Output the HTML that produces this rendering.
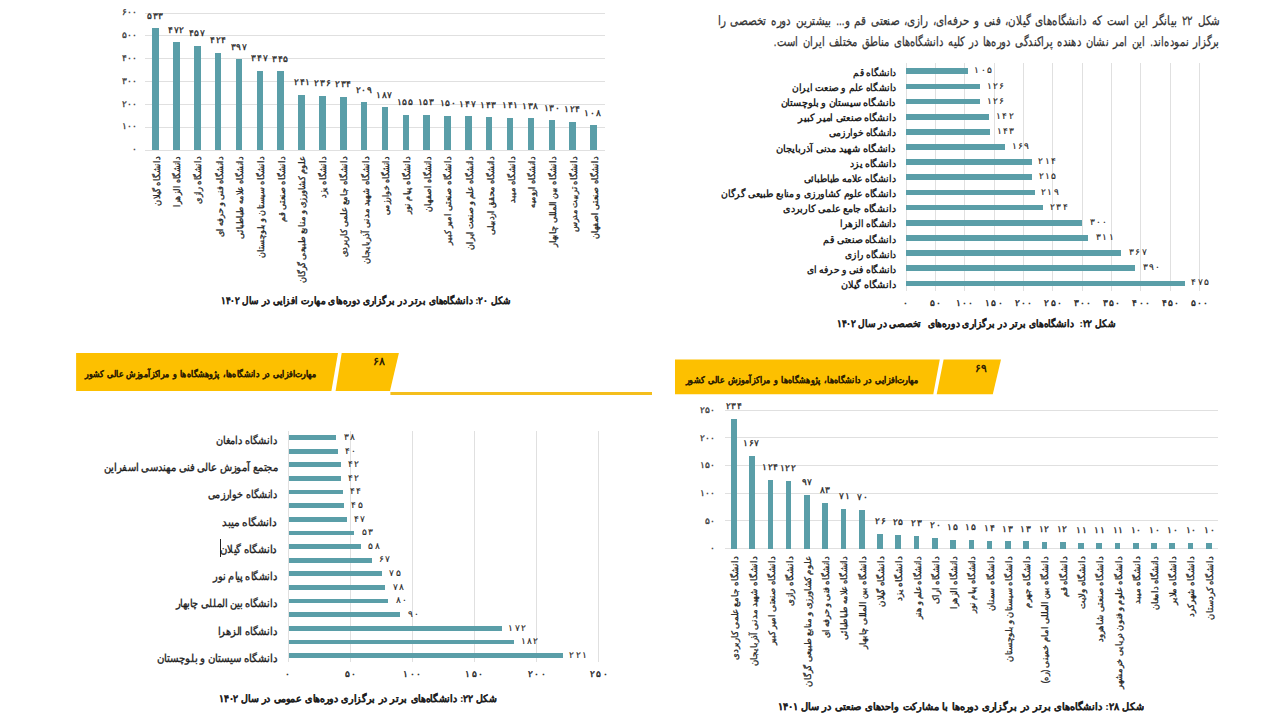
<!DOCTYPE html><html><head><meta charset="utf-8"><style>html,body{margin:0;padding:0;background:#fff}body{width:1280px;height:720px;overflow:hidden;position:relative}.t{position:absolute;white-space:nowrap;font-family:"Liberation Sans",sans-serif;direction:rtl}</style></head><body>
<div style="position:absolute;left:144.50px;top:149.50px;width:460.00px;height:1.00px;background:#e0e0e0"></div>
<div style="position:absolute;left:144.50px;top:126.67px;width:460.00px;height:1.00px;background:#e0e0e0"></div>
<div style="position:absolute;left:144.50px;top:103.83px;width:460.00px;height:1.00px;background:#e0e0e0"></div>
<div style="position:absolute;left:144.50px;top:81.00px;width:460.00px;height:1.00px;background:#e0e0e0"></div>
<div style="position:absolute;left:144.50px;top:58.17px;width:460.00px;height:1.00px;background:#e0e0e0"></div>
<div style="position:absolute;left:144.50px;top:35.33px;width:460.00px;height:1.00px;background:#e0e0e0"></div>
<div style="position:absolute;left:144.50px;top:12.50px;width:460.00px;height:1.00px;background:#e0e0e0"></div>
<div style="position:absolute;left:152.35px;top:28.30px;width:6.50px;height:121.70px;background:#5a9ea8"></div>
<div style="position:absolute;left:173.20px;top:42.23px;width:6.50px;height:107.77px;background:#5a9ea8"></div>
<div style="position:absolute;left:194.05px;top:45.65px;width:6.50px;height:104.35px;background:#5a9ea8"></div>
<div style="position:absolute;left:214.90px;top:53.19px;width:6.50px;height:96.81px;background:#5a9ea8"></div>
<div style="position:absolute;left:235.75px;top:59.35px;width:6.50px;height:90.65px;background:#5a9ea8"></div>
<div style="position:absolute;left:256.60px;top:70.77px;width:6.50px;height:79.23px;background:#5a9ea8"></div>
<div style="position:absolute;left:277.45px;top:71.22px;width:6.50px;height:78.78px;background:#5a9ea8"></div>
<div style="position:absolute;left:298.30px;top:94.97px;width:6.50px;height:55.03px;background:#5a9ea8"></div>
<div style="position:absolute;left:319.15px;top:96.11px;width:6.50px;height:53.89px;background:#5a9ea8"></div>
<div style="position:absolute;left:340.00px;top:96.57px;width:6.50px;height:53.43px;background:#5a9ea8"></div>
<div style="position:absolute;left:360.85px;top:102.28px;width:6.50px;height:47.72px;background:#5a9ea8"></div>
<div style="position:absolute;left:381.70px;top:107.30px;width:6.50px;height:42.70px;background:#5a9ea8"></div>
<div style="position:absolute;left:402.55px;top:114.61px;width:6.50px;height:35.39px;background:#5a9ea8"></div>
<div style="position:absolute;left:423.40px;top:115.06px;width:6.50px;height:34.94px;background:#5a9ea8"></div>
<div style="position:absolute;left:444.25px;top:115.75px;width:6.50px;height:34.25px;background:#5a9ea8"></div>
<div style="position:absolute;left:465.10px;top:116.44px;width:6.50px;height:33.56px;background:#5a9ea8"></div>
<div style="position:absolute;left:485.95px;top:117.35px;width:6.50px;height:32.65px;background:#5a9ea8"></div>
<div style="position:absolute;left:506.80px;top:117.81px;width:6.50px;height:32.19px;background:#5a9ea8"></div>
<div style="position:absolute;left:527.65px;top:118.49px;width:6.50px;height:31.51px;background:#5a9ea8"></div>
<div style="position:absolute;left:548.50px;top:120.32px;width:6.50px;height:29.68px;background:#5a9ea8"></div>
<div style="position:absolute;left:569.35px;top:121.69px;width:6.50px;height:28.31px;background:#5a9ea8"></div>
<div style="position:absolute;left:590.20px;top:125.34px;width:6.50px;height:24.66px;background:#5a9ea8"></div>
<div style="position:absolute;left:905.50px;top:63.00px;width:1.00px;height:228.00px;background:#e0e0e0"></div>
<div style="position:absolute;left:934.84px;top:63.00px;width:1.00px;height:228.00px;background:#e0e0e0"></div>
<div style="position:absolute;left:964.18px;top:63.00px;width:1.00px;height:228.00px;background:#e0e0e0"></div>
<div style="position:absolute;left:993.52px;top:63.00px;width:1.00px;height:228.00px;background:#e0e0e0"></div>
<div style="position:absolute;left:1022.86px;top:63.00px;width:1.00px;height:228.00px;background:#e0e0e0"></div>
<div style="position:absolute;left:1052.20px;top:63.00px;width:1.00px;height:228.00px;background:#e0e0e0"></div>
<div style="position:absolute;left:1081.54px;top:63.00px;width:1.00px;height:228.00px;background:#e0e0e0"></div>
<div style="position:absolute;left:1110.88px;top:63.00px;width:1.00px;height:228.00px;background:#e0e0e0"></div>
<div style="position:absolute;left:1140.22px;top:63.00px;width:1.00px;height:228.00px;background:#e0e0e0"></div>
<div style="position:absolute;left:1169.56px;top:63.00px;width:1.00px;height:228.00px;background:#e0e0e0"></div>
<div style="position:absolute;left:1198.90px;top:63.00px;width:1.00px;height:228.00px;background:#e0e0e0"></div>
<div style="position:absolute;left:906.00px;top:68.40px;width:61.61px;height:5.70px;background:#5a9ea8"></div>
<div style="position:absolute;left:906.00px;top:83.55px;width:73.94px;height:5.70px;background:#5a9ea8"></div>
<div style="position:absolute;left:906.00px;top:98.70px;width:73.94px;height:5.70px;background:#5a9ea8"></div>
<div style="position:absolute;left:906.00px;top:113.85px;width:83.33px;height:5.70px;background:#5a9ea8"></div>
<div style="position:absolute;left:906.00px;top:129.00px;width:83.91px;height:5.70px;background:#5a9ea8"></div>
<div style="position:absolute;left:906.00px;top:144.15px;width:99.17px;height:5.70px;background:#5a9ea8"></div>
<div style="position:absolute;left:906.00px;top:159.30px;width:125.58px;height:5.70px;background:#5a9ea8"></div>
<div style="position:absolute;left:906.00px;top:174.45px;width:126.16px;height:5.70px;background:#5a9ea8"></div>
<div style="position:absolute;left:906.00px;top:189.60px;width:128.51px;height:5.70px;background:#5a9ea8"></div>
<div style="position:absolute;left:906.00px;top:204.75px;width:137.31px;height:5.70px;background:#5a9ea8"></div>
<div style="position:absolute;left:906.00px;top:219.90px;width:176.04px;height:5.70px;background:#5a9ea8"></div>
<div style="position:absolute;left:906.00px;top:235.05px;width:182.49px;height:5.70px;background:#5a9ea8"></div>
<div style="position:absolute;left:906.00px;top:250.20px;width:215.36px;height:5.70px;background:#5a9ea8"></div>
<div style="position:absolute;left:906.00px;top:265.35px;width:228.85px;height:5.70px;background:#5a9ea8"></div>
<div style="position:absolute;left:906.00px;top:280.50px;width:278.73px;height:5.70px;background:#5a9ea8"></div>
<svg style="position:absolute;left:0;top:0" width="1280" height="720"><polygon points="76.1,353 338,353 331.4,391 76.1,391" fill="#fdc000"/><polygon points="341.7,353 398.9,353 390,391 335.6,391" fill="#fdc000"/><rect x="390.4" y="392" width="261.6" height="3" fill="#f4be1c"/><polygon points="675,359.5 939.8,359.5 933.3,394.3 675,394.3" fill="#fdc000"/><polygon points="943.6,359.5 1001,359.5 992.8,394.3 936.7,394.3" fill="#fdc000"/></svg>
<div style="position:absolute;left:288.10px;top:431.25px;width:1.00px;height:230.75px;background:#e0e0e0"></div>
<div style="position:absolute;left:350.10px;top:431.25px;width:1.00px;height:230.75px;background:#e0e0e0"></div>
<div style="position:absolute;left:412.10px;top:431.25px;width:1.00px;height:230.75px;background:#e0e0e0"></div>
<div style="position:absolute;left:474.10px;top:431.25px;width:1.00px;height:230.75px;background:#e0e0e0"></div>
<div style="position:absolute;left:536.10px;top:431.25px;width:1.00px;height:230.75px;background:#e0e0e0"></div>
<div style="position:absolute;left:598.10px;top:431.25px;width:1.00px;height:230.75px;background:#e0e0e0"></div>
<div style="position:absolute;left:288.60px;top:435.20px;width:47.12px;height:4.80px;background:#5a9ea8"></div>
<div style="position:absolute;left:288.60px;top:448.82px;width:49.60px;height:4.80px;background:#5a9ea8"></div>
<div style="position:absolute;left:288.60px;top:462.44px;width:52.08px;height:4.80px;background:#5a9ea8"></div>
<div style="position:absolute;left:288.60px;top:476.06px;width:52.08px;height:4.80px;background:#5a9ea8"></div>
<div style="position:absolute;left:288.60px;top:489.68px;width:54.56px;height:4.80px;background:#5a9ea8"></div>
<div style="position:absolute;left:288.60px;top:503.30px;width:55.80px;height:4.80px;background:#5a9ea8"></div>
<div style="position:absolute;left:288.60px;top:516.92px;width:58.28px;height:4.80px;background:#5a9ea8"></div>
<div style="position:absolute;left:288.60px;top:530.54px;width:65.72px;height:4.80px;background:#5a9ea8"></div>
<div style="position:absolute;left:288.60px;top:544.16px;width:71.92px;height:4.80px;background:#5a9ea8"></div>
<div style="position:absolute;left:288.60px;top:557.78px;width:83.08px;height:4.80px;background:#5a9ea8"></div>
<div style="position:absolute;left:288.60px;top:571.40px;width:93.00px;height:4.80px;background:#5a9ea8"></div>
<div style="position:absolute;left:288.60px;top:585.02px;width:96.72px;height:4.80px;background:#5a9ea8"></div>
<div style="position:absolute;left:288.60px;top:598.64px;width:99.20px;height:4.80px;background:#5a9ea8"></div>
<div style="position:absolute;left:288.60px;top:612.26px;width:111.60px;height:4.80px;background:#5a9ea8"></div>
<div style="position:absolute;left:288.60px;top:625.88px;width:213.28px;height:4.80px;background:#5a9ea8"></div>
<div style="position:absolute;left:288.60px;top:639.50px;width:225.68px;height:4.80px;background:#5a9ea8"></div>
<div style="position:absolute;left:288.60px;top:653.12px;width:274.04px;height:4.80px;background:#5a9ea8"></div>
<div style="position:absolute;left:219.70px;top:539.00px;width:1.30px;height:17.50px;background:#222"></div>
<div style="position:absolute;left:724.50px;top:548.10px;width:493.80px;height:1.00px;background:#e0e0e0"></div>
<div style="position:absolute;left:724.50px;top:520.44px;width:493.80px;height:1.00px;background:#e0e0e0"></div>
<div style="position:absolute;left:724.50px;top:492.78px;width:493.80px;height:1.00px;background:#e0e0e0"></div>
<div style="position:absolute;left:724.50px;top:465.12px;width:493.80px;height:1.00px;background:#e0e0e0"></div>
<div style="position:absolute;left:724.50px;top:437.46px;width:493.80px;height:1.00px;background:#e0e0e0"></div>
<div style="position:absolute;left:724.50px;top:409.80px;width:493.80px;height:1.00px;background:#e0e0e0"></div>
<div style="position:absolute;left:731.00px;top:419.15px;width:5.70px;height:129.45px;background:#5a9ea8"></div>
<div style="position:absolute;left:749.27px;top:456.22px;width:5.70px;height:92.38px;background:#5a9ea8"></div>
<div style="position:absolute;left:767.54px;top:480.00px;width:5.70px;height:68.60px;background:#5a9ea8"></div>
<div style="position:absolute;left:785.81px;top:481.11px;width:5.70px;height:67.49px;background:#5a9ea8"></div>
<div style="position:absolute;left:804.08px;top:494.94px;width:5.70px;height:53.66px;background:#5a9ea8"></div>
<div style="position:absolute;left:822.35px;top:502.68px;width:5.70px;height:45.92px;background:#5a9ea8"></div>
<div style="position:absolute;left:840.62px;top:509.32px;width:5.70px;height:39.28px;background:#5a9ea8"></div>
<div style="position:absolute;left:858.89px;top:509.88px;width:5.70px;height:38.72px;background:#5a9ea8"></div>
<div style="position:absolute;left:877.16px;top:534.22px;width:5.70px;height:14.38px;background:#5a9ea8"></div>
<div style="position:absolute;left:895.43px;top:534.77px;width:5.70px;height:13.83px;background:#5a9ea8"></div>
<div style="position:absolute;left:913.70px;top:535.88px;width:5.70px;height:12.72px;background:#5a9ea8"></div>
<div style="position:absolute;left:931.97px;top:537.54px;width:5.70px;height:11.06px;background:#5a9ea8"></div>
<div style="position:absolute;left:950.24px;top:540.30px;width:5.70px;height:8.30px;background:#5a9ea8"></div>
<div style="position:absolute;left:968.51px;top:540.30px;width:5.70px;height:8.30px;background:#5a9ea8"></div>
<div style="position:absolute;left:986.78px;top:540.86px;width:5.70px;height:7.74px;background:#5a9ea8"></div>
<div style="position:absolute;left:1005.05px;top:541.41px;width:5.70px;height:7.19px;background:#5a9ea8"></div>
<div style="position:absolute;left:1023.32px;top:541.41px;width:5.70px;height:7.19px;background:#5a9ea8"></div>
<div style="position:absolute;left:1041.59px;top:541.96px;width:5.70px;height:6.64px;background:#5a9ea8"></div>
<div style="position:absolute;left:1059.86px;top:541.96px;width:5.70px;height:6.64px;background:#5a9ea8"></div>
<div style="position:absolute;left:1078.13px;top:542.51px;width:5.70px;height:6.09px;background:#5a9ea8"></div>
<div style="position:absolute;left:1096.40px;top:542.51px;width:5.70px;height:6.09px;background:#5a9ea8"></div>
<div style="position:absolute;left:1114.67px;top:542.51px;width:5.70px;height:6.09px;background:#5a9ea8"></div>
<div style="position:absolute;left:1132.94px;top:543.07px;width:5.70px;height:5.53px;background:#5a9ea8"></div>
<div style="position:absolute;left:1151.21px;top:543.07px;width:5.70px;height:5.53px;background:#5a9ea8"></div>
<div style="position:absolute;left:1169.48px;top:543.07px;width:5.70px;height:5.53px;background:#5a9ea8"></div>
<div style="position:absolute;left:1187.75px;top:543.07px;width:5.70px;height:5.53px;background:#5a9ea8"></div>
<div style="position:absolute;left:1206.02px;top:543.07px;width:5.70px;height:5.53px;background:#5a9ea8"></div>
<div class="t" style="font-size:9px;line-height:9px;height:9px;color:#3a3a3a;-webkit-text-stroke:0.3px #3a3a3a;right:1142.90px;top:144.70px;transform-origin:100% 50%;">۰</div>
<div class="t" style="font-size:9px;line-height:9px;height:9px;color:#3a3a3a;-webkit-text-stroke:0.3px #3a3a3a;right:1142.90px;top:122.37px;transform-origin:100% 50%;">۱۰۰</div>
<div class="t" style="font-size:9px;line-height:9px;height:9px;color:#3a3a3a;-webkit-text-stroke:0.3px #3a3a3a;right:1142.90px;top:99.53px;transform-origin:100% 50%;">۲۰۰</div>
<div class="t" style="font-size:9px;line-height:9px;height:9px;color:#3a3a3a;-webkit-text-stroke:0.3px #3a3a3a;right:1142.90px;top:76.70px;transform-origin:100% 50%;">۳۰۰</div>
<div class="t" style="font-size:9px;line-height:9px;height:9px;color:#3a3a3a;-webkit-text-stroke:0.3px #3a3a3a;right:1142.90px;top:53.87px;transform-origin:100% 50%;">۴۰۰</div>
<div class="t" style="font-size:9px;line-height:9px;height:9px;color:#3a3a3a;-webkit-text-stroke:0.3px #3a3a3a;right:1142.90px;top:31.03px;transform-origin:100% 50%;">۵۰۰</div>
<div class="t" style="font-size:9px;line-height:9px;height:9px;color:#3a3a3a;-webkit-text-stroke:0.3px #3a3a3a;right:1142.90px;top:8.20px;transform-origin:100% 50%;">۶۰۰</div>
<div class="t" style="font-size:9px;line-height:9px;height:9px;color:#262626;-webkit-text-stroke:0.3px #262626;left:146.82px;top:11.60px;"><span style="padding:0 0.3px">۵</span><span style="padding:0 0.3px">۳</span><span style="padding:0 0.3px">۳</span></div>
<div class="t" style="font-size:9px;line-height:9px;height:9px;color:#222;-webkit-text-stroke:0.3px #222;right:1122.90px;top:152.30px;transform-origin:100% 50%;transform:rotate(-90deg) scaleX(0.9358);">دانشگاه گیلان</div>
<div class="t" style="font-size:9px;line-height:9px;height:9px;color:#262626;-webkit-text-stroke:0.3px #262626;left:167.67px;top:25.53px;"><span style="padding:0 0.3px">۴</span><span style="padding:0 0.3px">۷</span><span style="padding:0 0.3px">۲</span></div>
<div class="t" style="font-size:9px;line-height:9px;height:9px;color:#222;-webkit-text-stroke:0.3px #222;right:1102.05px;top:152.30px;transform-origin:100% 50%;transform:rotate(-90deg) scaleX(0.8702);">دانشگاه الزهرا</div>
<div class="t" style="font-size:9px;line-height:9px;height:9px;color:#262626;-webkit-text-stroke:0.3px #262626;left:188.52px;top:28.95px;"><span style="padding:0 0.3px">۴</span><span style="padding:0 0.3px">۵</span><span style="padding:0 0.3px">۷</span></div>
<div class="t" style="font-size:9px;line-height:9px;height:9px;color:#222;-webkit-text-stroke:0.3px #222;right:1081.20px;top:152.30px;transform-origin:100% 50%;transform:rotate(-90deg) scaleX(0.9173);">دانشگاه رازی</div>
<div class="t" style="font-size:9px;line-height:9px;height:9px;color:#262626;-webkit-text-stroke:0.3px #262626;left:209.87px;top:36.49px;"><span style="padding:0 0.3px">۴</span><span style="padding:0 0.3px">۲</span><span style="padding:0 0.3px">۴</span></div>
<div class="t" style="font-size:9px;line-height:9px;height:9px;color:#222;-webkit-text-stroke:0.3px #222;right:1060.35px;top:152.30px;transform-origin:100% 50%;transform:rotate(-90deg) scaleX(0.8967);">دانشگاه فنی و حرفه ای</div>
<div class="t" style="font-size:9px;line-height:9px;height:9px;color:#262626;-webkit-text-stroke:0.3px #262626;left:230.22px;top:42.65px;"><span style="padding:0 0.3px">۳</span><span style="padding:0 0.3px">۹</span><span style="padding:0 0.3px">۷</span></div>
<div class="t" style="font-size:9px;line-height:9px;height:9px;color:#222;-webkit-text-stroke:0.3px #222;right:1039.50px;top:152.30px;transform-origin:100% 50%;transform:rotate(-90deg) scaleX(0.8892);">دانشگاه علامه طباطبائی</div>
<div class="t" style="font-size:9px;line-height:9px;height:9px;color:#262626;-webkit-text-stroke:0.3px #262626;left:251.07px;top:54.07px;"><span style="padding:0 0.3px">۳</span><span style="padding:0 0.3px">۴</span><span style="padding:0 0.3px">۷</span></div>
<div class="t" style="font-size:9px;line-height:9px;height:9px;color:#222;-webkit-text-stroke:0.3px #222;right:1018.65px;top:152.30px;transform-origin:100% 50%;transform:rotate(-90deg) scaleX(0.9044);">دانشگاه سیستان و بلوچستان</div>
<div class="t" style="font-size:9px;line-height:9px;height:9px;color:#262626;-webkit-text-stroke:0.3px #262626;left:271.92px;top:54.52px;"><span style="padding:0 0.3px">۳</span><span style="padding:0 0.3px">۴</span><span style="padding:0 0.3px">۵</span></div>
<div class="t" style="font-size:9px;line-height:9px;height:9px;color:#222;-webkit-text-stroke:0.3px #222;right:997.80px;top:152.30px;transform-origin:100% 50%;transform:rotate(-90deg) scaleX(0.9056);">دانشگاه صنعتی قم</div>
<div class="t" style="font-size:9px;line-height:9px;height:9px;color:#262626;-webkit-text-stroke:0.3px #262626;left:293.77px;top:78.27px;"><span style="padding:0 0.3px">۲</span><span style="padding:0 0.3px">۴</span><span style="padding:0 0.3px">۱</span></div>
<div class="t" style="font-size:9px;line-height:9px;height:9px;color:#222;-webkit-text-stroke:0.3px #222;right:977.45px;top:152.30px;transform-origin:100% 50%;transform:rotate(-90deg) scaleX(0.9299);">علوم کشاورزی و منابع طبیعی گرگان</div>
<div class="t" style="font-size:9px;line-height:9px;height:9px;color:#262626;-webkit-text-stroke:0.3px #262626;left:314.12px;top:79.41px;"><span style="padding:0 0.3px">۲</span><span style="padding:0 0.3px">۳</span><span style="padding:0 0.3px">۶</span></div>
<div class="t" style="font-size:9px;line-height:9px;height:9px;color:#222;-webkit-text-stroke:0.3px #222;right:956.10px;top:152.30px;transform-origin:100% 50%;transform:rotate(-90deg) scaleX(0.9087);">دانشگاه یزد</div>
<div class="t" style="font-size:9px;line-height:9px;height:9px;color:#262626;-webkit-text-stroke:0.3px #262626;left:334.97px;top:79.87px;"><span style="padding:0 0.3px">۲</span><span style="padding:0 0.3px">۳</span><span style="padding:0 0.3px">۴</span></div>
<div class="t" style="font-size:9px;line-height:9px;height:9px;color:#222;-webkit-text-stroke:0.3px #222;right:935.75px;top:152.30px;transform-origin:100% 50%;transform:rotate(-90deg) scaleX(0.9284);">دانشگاه جامع علمی کاربردی</div>
<div class="t" style="font-size:9px;line-height:9px;height:9px;color:#262626;-webkit-text-stroke:0.3px #262626;left:355.32px;top:85.58px;"><span style="padding:0 0.3px">۲</span><span style="padding:0 0.3px">۰</span><span style="padding:0 0.3px">۹</span></div>
<div class="t" style="font-size:9px;line-height:9px;height:9px;color:#222;-webkit-text-stroke:0.3px #222;right:913.90px;top:152.30px;transform-origin:100% 50%;transform:rotate(-90deg) scaleX(0.9310);">دانشگاه شهید مدنی آذربایجان</div>
<div class="t" style="font-size:9px;line-height:9px;height:9px;color:#262626;-webkit-text-stroke:0.3px #262626;left:375.67px;top:90.60px;"><span style="padding:0 0.3px">۱</span><span style="padding:0 0.3px">۸</span><span style="padding:0 0.3px">۷</span></div>
<div class="t" style="font-size:9px;line-height:9px;height:9px;color:#222;-webkit-text-stroke:0.3px #222;right:893.55px;top:152.30px;transform-origin:100% 50%;transform:rotate(-90deg) scaleX(0.8594);">دانشگاه خوارزمی</div>
<div class="t" style="font-size:9px;line-height:9px;height:9px;color:#262626;-webkit-text-stroke:0.3px #262626;left:396.52px;top:97.91px;"><span style="padding:0 0.3px">۱</span><span style="padding:0 0.3px">۵</span><span style="padding:0 0.3px">۵</span></div>
<div class="t" style="font-size:9px;line-height:9px;height:9px;color:#222;-webkit-text-stroke:0.3px #222;right:872.70px;top:152.30px;transform-origin:100% 50%;transform:rotate(-90deg) scaleX(0.9111);">دانشگاه پیام نور</div>
<div class="t" style="font-size:9px;line-height:9px;height:9px;color:#262626;-webkit-text-stroke:0.3px #262626;left:417.37px;top:98.36px;"><span style="padding:0 0.3px">۱</span><span style="padding:0 0.3px">۵</span><span style="padding:0 0.3px">۳</span></div>
<div class="t" style="font-size:9px;line-height:9px;height:9px;color:#222;-webkit-text-stroke:0.3px #222;right:851.85px;top:152.30px;transform-origin:100% 50%;transform:rotate(-90deg) scaleX(0.8672);">دانشگاه اصفهان</div>
<div class="t" style="font-size:9px;line-height:9px;height:9px;color:#262626;-webkit-text-stroke:0.3px #262626;left:439.22px;top:99.05px;"><span style="padding:0 0.3px">۱</span><span style="padding:0 0.3px">۵</span><span style="padding:0 0.3px">۰</span></div>
<div class="t" style="font-size:9px;line-height:9px;height:9px;color:#222;-webkit-text-stroke:0.3px #222;right:831.00px;top:152.30px;transform-origin:100% 50%;transform:rotate(-90deg) scaleX(0.9219);">دانشگاه صنعتی امیر کبیر</div>
<div class="t" style="font-size:9px;line-height:9px;height:9px;color:#262626;-webkit-text-stroke:0.3px #262626;left:459.07px;top:99.73px;"><span style="padding:0 0.3px">۱</span><span style="padding:0 0.3px">۴</span><span style="padding:0 0.3px">۷</span></div>
<div class="t" style="font-size:9px;line-height:9px;height:9px;color:#222;-webkit-text-stroke:0.3px #222;right:810.15px;top:152.30px;transform-origin:100% 50%;transform:rotate(-90deg) scaleX(0.8981);">دانشگاه علم و صنعت ایران</div>
<div class="t" style="font-size:9px;line-height:9px;height:9px;color:#262626;-webkit-text-stroke:0.3px #262626;left:479.92px;top:100.65px;"><span style="padding:0 0.3px">۱</span><span style="padding:0 0.3px">۴</span><span style="padding:0 0.3px">۳</span></div>
<div class="t" style="font-size:9px;line-height:9px;height:9px;color:#222;-webkit-text-stroke:0.3px #222;right:789.30px;top:152.30px;transform-origin:100% 50%;transform:rotate(-90deg) scaleX(0.8955);">دانشگاه محقق اردبیلی</div>
<div class="t" style="font-size:9px;line-height:9px;height:9px;color:#262626;-webkit-text-stroke:0.3px #262626;left:501.77px;top:101.11px;"><span style="padding:0 0.3px">۱</span><span style="padding:0 0.3px">۴</span><span style="padding:0 0.3px">۱</span></div>
<div class="t" style="font-size:9px;line-height:9px;height:9px;color:#222;-webkit-text-stroke:0.3px #222;right:767.95px;top:152.30px;transform-origin:100% 50%;transform:rotate(-90deg) scaleX(0.9340);">دانشگاه میبد</div>
<div class="t" style="font-size:9px;line-height:9px;height:9px;color:#262626;-webkit-text-stroke:0.3px #262626;left:521.62px;top:101.79px;"><span style="padding:0 0.3px">۱</span><span style="padding:0 0.3px">۳</span><span style="padding:0 0.3px">۸</span></div>
<div class="t" style="font-size:9px;line-height:9px;height:9px;color:#222;-webkit-text-stroke:0.3px #222;right:747.60px;top:152.30px;transform-origin:100% 50%;transform:rotate(-90deg) scaleX(0.8897);">دانشگاه ارومیه</div>
<div class="t" style="font-size:9px;line-height:9px;height:9px;color:#262626;-webkit-text-stroke:0.3px #262626;left:543.47px;top:103.62px;"><span style="padding:0 0.3px">۱</span><span style="padding:0 0.3px">۳</span><span style="padding:0 0.3px">۰</span></div>
<div class="t" style="font-size:9px;line-height:9px;height:9px;color:#222;-webkit-text-stroke:0.3px #222;right:726.75px;top:152.30px;transform-origin:100% 50%;transform:rotate(-90deg) scaleX(0.9050);">دانشگاه بین المللی چابهار</div>
<div class="t" style="font-size:9px;line-height:9px;height:9px;color:#262626;-webkit-text-stroke:0.3px #262626;left:563.82px;top:104.99px;"><span style="padding:0 0.3px">۱</span><span style="padding:0 0.3px">۲</span><span style="padding:0 0.3px">۴</span></div>
<div class="t" style="font-size:9px;line-height:9px;height:9px;color:#222;-webkit-text-stroke:0.3px #222;right:705.90px;top:152.30px;transform-origin:100% 50%;transform:rotate(-90deg) scaleX(0.9036);">دانشگاه تربیت مدرس</div>
<div class="t" style="font-size:9px;line-height:9px;height:9px;color:#262626;-webkit-text-stroke:0.3px #262626;left:584.17px;top:108.64px;"><span style="padding:0 0.3px">۱</span><span style="padding:0 0.3px">۰</span><span style="padding:0 0.3px">۸</span></div>
<div class="t" style="font-size:9px;line-height:9px;height:9px;color:#222;-webkit-text-stroke:0.3px #222;right:685.05px;top:152.30px;transform-origin:100% 50%;transform:rotate(-90deg) scaleX(0.8989);">دانشگاه صنعتی اصفهان</div>
<div class="t" style="font-size:9.5px;line-height:9.5px;height:9.5px;color:#1e1e1e;font-weight:bold;word-spacing:1px;-webkit-text-stroke:0.2px #1e1e1e;right:769.70px;top:296.10px;transform-origin:100% 50%;transform:scaleX(0.8910);">شکل ۲۰: دانشگاه‌های برتر در برگزاری دوره‌های مهارت افزایی در سال ۱۴۰۲</div>
<div class="t" style="font-size:12.5px;line-height:12.5px;height:12.5px;color:#333;word-spacing:2.5px;-webkit-text-stroke:0.25px #333;right:60.10px;top:14.80px;transform-origin:100% 50%;transform:scaleX(0.7960);">شکل ۲۲ بیانگر این است که دانشگاه‌های گیلان، فنی و حرفه‌ای، رازی، صنعتی قم و... بیشترین دوره تخصصی را</div>
<div class="t" style="font-size:12.5px;line-height:12.5px;height:12.5px;color:#333;word-spacing:2.5px;-webkit-text-stroke:0.25px #333;right:60.13px;top:35.80px;transform-origin:100% 50%;transform:scaleX(0.7677);">برگزار نموده‌اند. این امر نشان دهنده پراکندگی دوره‌ها در کلیه دانشگاه‌های مناطق مختلف ایران است.</div>
<div class="t" style="font-size:9px;line-height:9px;height:9px;color:#262626;-webkit-text-stroke:0.4px #262626;left:902.41px;top:298.60px;"><span style="padding:0 0.6px">۰</span></div>
<div class="t" style="font-size:9px;line-height:9px;height:9px;color:#262626;-webkit-text-stroke:0.4px #262626;left:929.57px;top:299.10px;"><span style="padding:0 0.6px">۵</span><span style="padding:0 0.6px">۰</span></div>
<div class="t" style="font-size:9px;line-height:9px;height:9px;color:#262626;-webkit-text-stroke:0.4px #262626;left:955.22px;top:299.10px;"><span style="padding:0 0.6px">۱</span><span style="padding:0 0.6px">۰</span><span style="padding:0 0.6px">۰</span></div>
<div class="t" style="font-size:9px;line-height:9px;height:9px;color:#262626;-webkit-text-stroke:0.4px #262626;left:984.56px;top:299.10px;"><span style="padding:0 0.6px">۱</span><span style="padding:0 0.6px">۵</span><span style="padding:0 0.6px">۰</span></div>
<div class="t" style="font-size:9px;line-height:9px;height:9px;color:#262626;-webkit-text-stroke:0.4px #262626;left:1014.40px;top:299.10px;"><span style="padding:0 0.6px">۲</span><span style="padding:0 0.6px">۰</span><span style="padding:0 0.6px">۰</span></div>
<div class="t" style="font-size:9px;line-height:9px;height:9px;color:#262626;-webkit-text-stroke:0.4px #262626;left:1043.74px;top:299.10px;"><span style="padding:0 0.6px">۲</span><span style="padding:0 0.6px">۵</span><span style="padding:0 0.6px">۰</span></div>
<div class="t" style="font-size:9px;line-height:9px;height:9px;color:#262626;-webkit-text-stroke:0.4px #262626;left:1073.08px;top:299.10px;"><span style="padding:0 0.6px">۳</span><span style="padding:0 0.6px">۰</span><span style="padding:0 0.6px">۰</span></div>
<div class="t" style="font-size:9px;line-height:9px;height:9px;color:#262626;-webkit-text-stroke:0.4px #262626;left:1102.42px;top:299.10px;"><span style="padding:0 0.6px">۳</span><span style="padding:0 0.6px">۵</span><span style="padding:0 0.6px">۰</span></div>
<div class="t" style="font-size:9px;line-height:9px;height:9px;color:#262626;-webkit-text-stroke:0.4px #262626;left:1131.76px;top:299.10px;"><span style="padding:0 0.6px">۴</span><span style="padding:0 0.6px">۰</span><span style="padding:0 0.6px">۰</span></div>
<div class="t" style="font-size:9px;line-height:9px;height:9px;color:#262626;-webkit-text-stroke:0.4px #262626;left:1161.10px;top:299.10px;"><span style="padding:0 0.6px">۴</span><span style="padding:0 0.6px">۵</span><span style="padding:0 0.6px">۰</span></div>
<div class="t" style="font-size:9px;line-height:9px;height:9px;color:#262626;-webkit-text-stroke:0.4px #262626;left:1190.44px;top:299.10px;"><span style="padding:0 0.6px">۵</span><span style="padding:0 0.6px">۰</span><span style="padding:0 0.6px">۰</span></div>
<div class="t" style="font-size:9px;line-height:9px;height:9px;color:#262626;-webkit-text-stroke:0.15px #262626;left:973.67px;top:66.35px;"><span style="padding:0 0.65px">۱</span><span style="padding:0 0.65px">۰</span><span style="padding:0 0.65px">۵</span></div>
<div class="t" style="font-size:10px;line-height:10px;height:10px;color:#222;font-weight:bold;right:384.20px;top:67.85px;transform-origin:100% 50%;transform:scaleX(0.8875);">دانشگاه قم</div>
<div class="t" style="font-size:9px;line-height:9px;height:9px;color:#262626;-webkit-text-stroke:0.15px #262626;left:985.99px;top:81.50px;"><span style="padding:0 0.65px">۱</span><span style="padding:0 0.65px">۲</span><span style="padding:0 0.65px">۶</span></div>
<div class="t" style="font-size:10px;line-height:10px;height:10px;color:#222;font-weight:bold;right:384.20px;top:83.00px;transform-origin:100% 50%;transform:scaleX(0.9195);">دانشگاه علم و صنعت ایران</div>
<div class="t" style="font-size:9px;line-height:9px;height:9px;color:#262626;-webkit-text-stroke:0.15px #262626;left:985.99px;top:96.65px;"><span style="padding:0 0.65px">۱</span><span style="padding:0 0.65px">۲</span><span style="padding:0 0.65px">۶</span></div>
<div class="t" style="font-size:10px;line-height:10px;height:10px;color:#222;font-weight:bold;right:384.20px;top:98.15px;transform-origin:100% 50%;transform:scaleX(0.9686);">دانشگاه سیستان و بلوچستان</div>
<div class="t" style="font-size:9px;line-height:9px;height:9px;color:#262626;-webkit-text-stroke:0.15px #262626;left:995.38px;top:111.80px;"><span style="padding:0 0.65px">۱</span><span style="padding:0 0.65px">۴</span><span style="padding:0 0.65px">۲</span></div>
<div class="t" style="font-size:10px;line-height:10px;height:10px;color:#222;font-weight:bold;right:384.20px;top:113.30px;transform-origin:100% 50%;transform:scaleX(0.9476);">دانشگاه صنعتی امیر کبیر</div>
<div class="t" style="font-size:9px;line-height:9px;height:9px;color:#262626;-webkit-text-stroke:0.15px #262626;left:995.97px;top:126.95px;"><span style="padding:0 0.65px">۱</span><span style="padding:0 0.65px">۴</span><span style="padding:0 0.65px">۳</span></div>
<div class="t" style="font-size:10px;line-height:10px;height:10px;color:#222;font-weight:bold;right:384.20px;top:128.45px;transform-origin:100% 50%;transform:scaleX(0.9151);">دانشگاه خوارزمی</div>
<div class="t" style="font-size:9px;line-height:9px;height:9px;color:#262626;-webkit-text-stroke:0.15px #262626;left:1011.23px;top:142.10px;"><span style="padding:0 0.65px">۱</span><span style="padding:0 0.65px">۶</span><span style="padding:0 0.65px">۹</span></div>
<div class="t" style="font-size:10px;line-height:10px;height:10px;color:#222;font-weight:bold;right:384.20px;top:143.60px;transform-origin:100% 50%;transform:scaleX(0.9900);">دانشگاه شهید مدنی آذربایجان</div>
<div class="t" style="font-size:9px;line-height:9px;height:9px;color:#262626;-webkit-text-stroke:0.15px #262626;left:1037.63px;top:157.25px;"><span style="padding:0 0.65px">۲</span><span style="padding:0 0.65px">۱</span><span style="padding:0 0.65px">۴</span></div>
<div class="t" style="font-size:10px;line-height:10px;height:10px;color:#222;font-weight:bold;right:384.20px;top:158.75px;transform-origin:100% 50%;transform:scaleX(0.9347);">دانشگاه یزد</div>
<div class="t" style="font-size:9px;line-height:9px;height:9px;color:#262626;-webkit-text-stroke:0.15px #262626;left:1038.22px;top:172.40px;"><span style="padding:0 0.65px">۲</span><span style="padding:0 0.65px">۱</span><span style="padding:0 0.65px">۵</span></div>
<div class="t" style="font-size:10px;line-height:10px;height:10px;color:#222;font-weight:bold;right:384.20px;top:174.40px;transform-origin:100% 50%;transform:scaleX(0.9210);">دانشگاه علامه طباطبائی</div>
<div class="t" style="font-size:9px;line-height:9px;height:9px;color:#262626;-webkit-text-stroke:0.15px #262626;left:1040.57px;top:187.55px;"><span style="padding:0 0.65px">۲</span><span style="padding:0 0.65px">۱</span><span style="padding:0 0.65px">۹</span></div>
<div class="t" style="font-size:10px;line-height:10px;height:10px;color:#222;font-weight:bold;right:384.20px;top:189.05px;transform-origin:100% 50%;transform:scaleX(0.9332);">دانشگاه علوم کشاورزی و منابع طبیعی گرگان</div>
<div class="t" style="font-size:9px;line-height:9px;height:9px;color:#262626;-webkit-text-stroke:0.15px #262626;left:1049.37px;top:202.70px;"><span style="padding:0 0.65px">۲</span><span style="padding:0 0.65px">۳</span><span style="padding:0 0.65px">۴</span></div>
<div class="t" style="font-size:10px;line-height:10px;height:10px;color:#222;font-weight:bold;right:384.20px;top:204.20px;transform-origin:100% 50%;transform:scaleX(0.9556);">دانشگاه جامع علمی کاربردی</div>
<div class="t" style="font-size:9px;line-height:9px;height:9px;color:#262626;-webkit-text-stroke:0.15px #262626;left:1089.10px;top:217.85px;"><span style="padding:0 0.65px">۳</span><span style="padding:0 0.65px">۰</span><span style="padding:0 0.65px">۰</span></div>
<div class="t" style="font-size:10px;line-height:10px;height:10px;color:#222;font-weight:bold;right:384.20px;top:219.35px;transform-origin:100% 50%;transform:scaleX(0.9016);">دانشگاه الزهرا</div>
<div class="t" style="font-size:9px;line-height:9px;height:9px;color:#262626;-webkit-text-stroke:0.15px #262626;left:1095.55px;top:233.00px;"><span style="padding:0 0.65px">۳</span><span style="padding:0 0.65px">۱</span><span style="padding:0 0.65px">۱</span></div>
<div class="t" style="font-size:10px;line-height:10px;height:10px;color:#222;font-weight:bold;right:384.20px;top:234.50px;transform-origin:100% 50%;transform:scaleX(0.9308);">دانشگاه صنعتی قم</div>
<div class="t" style="font-size:9px;line-height:9px;height:9px;color:#262626;-webkit-text-stroke:0.15px #262626;left:1128.41px;top:248.15px;"><span style="padding:0 0.65px">۳</span><span style="padding:0 0.65px">۶</span><span style="padding:0 0.65px">۷</span></div>
<div class="t" style="font-size:10px;line-height:10px;height:10px;color:#222;font-weight:bold;right:384.20px;top:249.65px;transform-origin:100% 50%;transform:scaleX(0.8965);">دانشگاه رازی</div>
<div class="t" style="font-size:9px;line-height:9px;height:9px;color:#262626;-webkit-text-stroke:0.15px #262626;left:1141.91px;top:263.30px;"><span style="padding:0 0.65px">۳</span><span style="padding:0 0.65px">۹</span><span style="padding:0 0.65px">۰</span></div>
<div class="t" style="font-size:10px;line-height:10px;height:10px;color:#222;font-weight:bold;right:384.20px;top:264.80px;transform-origin:100% 50%;transform:scaleX(0.9122);">دانشگاه فنی و حرفه ای</div>
<div class="t" style="font-size:9px;line-height:9px;height:9px;color:#262626;-webkit-text-stroke:0.15px #262626;left:1190.79px;top:278.45px;"><span style="padding:0 0.65px">۴</span><span style="padding:0 0.65px">۷</span><span style="padding:0 0.65px">۵</span></div>
<div class="t" style="font-size:10px;line-height:10px;height:10px;color:#222;font-weight:bold;right:384.20px;top:280.45px;transform-origin:100% 50%;transform:scaleX(0.9649);">دانشگاه گیلان</div>
<div class="t" style="font-size:9.5px;line-height:9.5px;height:9.5px;color:#1e1e1e;font-weight:bold;word-spacing:1px;-webkit-text-stroke:0.2px #1e1e1e;right:165.60px;top:318.50px;transform-origin:100% 50%;transform:scaleX(0.9020);">شکل ۲۲:&nbsp; دانشگاه‌های برتر در برگزاری دوره‌های&nbsp; تخصصی در سال ۱۴۰۲</div>
<div class="t" style="font-size:9px;line-height:9px;height:9px;color:#2e2100;font-weight:bold;word-spacing:1.5px;-webkit-text-stroke:0.2px #2e2100;right:964.10px;top:369.50px;transform-origin:100% 50%;transform:scaleX(0.8617);">مهارت‌افزایی در دانشگاه‌ها، پژوهشگاه‌ها و مراکزآموزش عالی کشور</div>
<div class="t" style="font-size:11px;line-height:11px;height:11px;color:#2e2100;font-weight:bold;right:895.20px;top:356.20px;transform-origin:100% 50%;transform:scaleX(1.0182);">۶۸</div>
<div class="t" style="font-size:9px;line-height:9px;height:9px;color:#2e2100;font-weight:bold;word-spacing:1.5px;-webkit-text-stroke:0.2px #2e2100;right:361.90px;top:376.30px;transform-origin:100% 50%;transform:scaleX(0.8658);">مهارت‌افزایی در دانشگاه‌ها، پژوهشگاه‌ها و مراکزآموزش عالی کشور</div>
<div class="t" style="font-size:11px;line-height:11px;height:11px;color:#2e2100;font-weight:bold;right:293.30px;top:362.80px;transform-origin:100% 50%;transform:scaleX(0.9818);">۶۹</div>
<div class="t" style="font-size:9px;line-height:9px;height:9px;color:#262626;-webkit-text-stroke:0.4px #262626;left:284.66px;top:669.60px;"><span style="padding:0 0.8px">۰</span></div>
<div class="t" style="font-size:9px;line-height:9px;height:9px;color:#262626;-webkit-text-stroke:0.4px #262626;left:344.06px;top:670.10px;"><span style="padding:0 0.8px">۵</span><span style="padding:0 0.8px">۰</span></div>
<div class="t" style="font-size:9px;line-height:9px;height:9px;color:#262626;-webkit-text-stroke:0.4px #262626;left:402.47px;top:670.10px;"><span style="padding:0 0.8px">۱</span><span style="padding:0 0.8px">۰</span><span style="padding:0 0.8px">۰</span></div>
<div class="t" style="font-size:9px;line-height:9px;height:9px;color:#262626;-webkit-text-stroke:0.4px #262626;left:464.47px;top:670.10px;"><span style="padding:0 0.8px">۱</span><span style="padding:0 0.8px">۵</span><span style="padding:0 0.8px">۰</span></div>
<div class="t" style="font-size:9px;line-height:9px;height:9px;color:#262626;-webkit-text-stroke:0.4px #262626;left:526.97px;top:670.10px;"><span style="padding:0 0.8px">۲</span><span style="padding:0 0.8px">۰</span><span style="padding:0 0.8px">۰</span></div>
<div class="t" style="font-size:9px;line-height:9px;height:9px;color:#262626;-webkit-text-stroke:0.4px #262626;left:588.97px;top:670.10px;"><span style="padding:0 0.8px">۲</span><span style="padding:0 0.8px">۵</span><span style="padding:0 0.8px">۰</span></div>
<div class="t" style="font-size:9px;line-height:9px;height:9px;color:#262626;-webkit-text-stroke:0.15px #262626;left:342.96px;top:432.90px;"><span style="padding:0 0.65px">۳</span><span style="padding:0 0.65px">۸</span></div>
<div class="t" style="font-size:11px;line-height:11px;height:11px;color:#1e1e1e;-webkit-text-stroke:0.35px #1e1e1e;right:1002.60px;top:435.40px;transform-origin:100% 50%;transform:scaleX(0.8853);">دانشگاه دامغان</div>
<div class="t" style="font-size:9px;line-height:9px;height:9px;color:#262626;-webkit-text-stroke:0.15px #262626;left:344.44px;top:446.52px;"><span style="padding:0 0.65px">۴</span><span style="padding:0 0.65px">۰</span></div>
<div class="t" style="font-size:9px;line-height:9px;height:9px;color:#262626;-webkit-text-stroke:0.15px #262626;left:346.92px;top:460.14px;"><span style="padding:0 0.65px">۴</span><span style="padding:0 0.65px">۲</span></div>
<div class="t" style="font-size:11px;line-height:11px;height:11px;color:#1e1e1e;-webkit-text-stroke:0.35px #1e1e1e;right:1001.69px;top:462.14px;transform-origin:100% 50%;transform:scaleX(0.9111);">مجتمع آموزش عالی فنی مهندسی اسفراین</div>
<div class="t" style="font-size:9px;line-height:9px;height:9px;color:#262626;-webkit-text-stroke:0.15px #262626;left:346.92px;top:473.76px;"><span style="padding:0 0.65px">۴</span><span style="padding:0 0.65px">۲</span></div>
<div class="t" style="font-size:9px;line-height:9px;height:9px;color:#262626;-webkit-text-stroke:0.15px #262626;left:349.40px;top:487.38px;"><span style="padding:0 0.65px">۴</span><span style="padding:0 0.65px">۴</span></div>
<div class="t" style="font-size:11px;line-height:11px;height:11px;color:#1e1e1e;-webkit-text-stroke:0.35px #1e1e1e;right:1002.60px;top:489.38px;transform-origin:100% 50%;transform:scaleX(0.8675);">دانشگاه خوارزمی</div>
<div class="t" style="font-size:9px;line-height:9px;height:9px;color:#262626;-webkit-text-stroke:0.15px #262626;left:350.64px;top:501.00px;"><span style="padding:0 0.65px">۴</span><span style="padding:0 0.65px">۵</span></div>
<div class="t" style="font-size:9px;line-height:9px;height:9px;color:#262626;-webkit-text-stroke:0.15px #262626;left:353.12px;top:514.62px;"><span style="padding:0 0.65px">۴</span><span style="padding:0 0.65px">۷</span></div>
<div class="t" style="font-size:11px;line-height:11px;height:11px;color:#1e1e1e;-webkit-text-stroke:0.35px #1e1e1e;right:1002.60px;top:517.12px;transform-origin:100% 50%;transform:scaleX(0.9614);">دانشگاه میبد</div>
<div class="t" style="font-size:9px;line-height:9px;height:9px;color:#262626;-webkit-text-stroke:0.15px #262626;left:361.56px;top:528.24px;"><span style="padding:0 0.65px">۵</span><span style="padding:0 0.65px">۳</span></div>
<div class="t" style="font-size:9px;line-height:9px;height:9px;color:#262626;-webkit-text-stroke:0.15px #262626;left:367.76px;top:541.86px;"><span style="padding:0 0.65px">۵</span><span style="padding:0 0.65px">۸</span></div>
<div class="t" style="font-size:11px;line-height:11px;height:11px;color:#1e1e1e;-webkit-text-stroke:0.35px #1e1e1e;right:1002.60px;top:544.36px;transform-origin:100% 50%;transform:scaleX(0.9213);">دانشگاه گیلان</div>
<div class="t" style="font-size:9px;line-height:9px;height:9px;color:#262626;-webkit-text-stroke:0.15px #262626;left:377.92px;top:555.48px;"><span style="padding:0 0.65px">۶</span><span style="padding:0 0.65px">۷</span></div>
<div class="t" style="font-size:9px;line-height:9px;height:9px;color:#262626;-webkit-text-stroke:0.15px #262626;left:388.84px;top:569.10px;"><span style="padding:0 0.65px">۷</span><span style="padding:0 0.65px">۵</span></div>
<div class="t" style="font-size:11px;line-height:11px;height:11px;color:#1e1e1e;-webkit-text-stroke:0.35px #1e1e1e;right:1002.60px;top:571.10px;transform-origin:100% 50%;transform:scaleX(0.8836);">دانشگاه پیام نور</div>
<div class="t" style="font-size:9px;line-height:9px;height:9px;color:#262626;-webkit-text-stroke:0.15px #262626;left:392.56px;top:582.72px;"><span style="padding:0 0.65px">۷</span><span style="padding:0 0.65px">۸</span></div>
<div class="t" style="font-size:9px;line-height:9px;height:9px;color:#262626;-webkit-text-stroke:0.15px #262626;left:395.04px;top:596.34px;"><span style="padding:0 0.65px">۸</span><span style="padding:0 0.65px">۰</span></div>
<div class="t" style="font-size:11px;line-height:11px;height:11px;color:#1e1e1e;-webkit-text-stroke:0.35px #1e1e1e;right:1002.60px;top:598.34px;transform-origin:100% 50%;transform:scaleX(0.8904);">دانشگاه بین المللی چابهار</div>
<div class="t" style="font-size:9px;line-height:9px;height:9px;color:#262626;-webkit-text-stroke:0.15px #262626;left:407.44px;top:609.96px;"><span style="padding:0 0.65px">۹</span><span style="padding:0 0.65px">۰</span></div>
<div class="t" style="font-size:9px;line-height:9px;height:9px;color:#262626;-webkit-text-stroke:0.15px #262626;left:507.84px;top:623.58px;"><span style="padding:0 0.65px">۱</span><span style="padding:0 0.65px">۷</span><span style="padding:0 0.65px">۲</span></div>
<div class="t" style="font-size:11px;line-height:11px;height:11px;color:#1e1e1e;-webkit-text-stroke:0.35px #1e1e1e;right:1002.60px;top:625.58px;transform-origin:100% 50%;transform:scaleX(0.8985);">دانشگاه الزهرا</div>
<div class="t" style="font-size:9px;line-height:9px;height:9px;color:#262626;-webkit-text-stroke:0.15px #262626;left:520.24px;top:637.20px;"><span style="padding:0 0.65px">۱</span><span style="padding:0 0.65px">۸</span><span style="padding:0 0.65px">۲</span></div>
<div class="t" style="font-size:9px;line-height:9px;height:9px;color:#262626;-webkit-text-stroke:0.15px #262626;left:568.60px;top:650.82px;"><span style="padding:0 0.65px">۲</span><span style="padding:0 0.65px">۲</span><span style="padding:0 0.65px">۱</span></div>
<div class="t" style="font-size:11px;line-height:11px;height:11px;color:#1e1e1e;-webkit-text-stroke:0.35px #1e1e1e;right:1002.60px;top:652.82px;transform-origin:100% 50%;transform:scaleX(0.9256);">دانشگاه سیستان و بلوچستان</div>
<div class="t" style="font-size:9.5px;line-height:9.5px;height:9.5px;color:#1e1e1e;font-weight:bold;word-spacing:1px;-webkit-text-stroke:0.2px #1e1e1e;right:783.10px;top:693.50px;transform-origin:100% 50%;transform:scaleX(0.9386);">شکل ۲۲: دانشگاه‌های برتر در برگزاری دوره‌های عمومی در سال ۱۴۰۲</div>
<div class="t" style="font-size:9px;line-height:9px;height:9px;color:#3a3a3a;-webkit-text-stroke:0.3px #3a3a3a;right:564.70px;top:543.90px;transform-origin:100% 50%;">۰</div>
<div class="t" style="font-size:9px;line-height:9px;height:9px;color:#3a3a3a;-webkit-text-stroke:0.3px #3a3a3a;right:564.70px;top:516.74px;transform-origin:100% 50%;">۵۰</div>
<div class="t" style="font-size:9px;line-height:9px;height:9px;color:#3a3a3a;-webkit-text-stroke:0.3px #3a3a3a;right:564.70px;top:489.08px;transform-origin:100% 50%;">۱۰۰</div>
<div class="t" style="font-size:9px;line-height:9px;height:9px;color:#3a3a3a;-webkit-text-stroke:0.3px #3a3a3a;right:564.70px;top:461.42px;transform-origin:100% 50%;">۱۵۰</div>
<div class="t" style="font-size:9px;line-height:9px;height:9px;color:#3a3a3a;-webkit-text-stroke:0.3px #3a3a3a;right:564.70px;top:433.76px;transform-origin:100% 50%;">۲۰۰</div>
<div class="t" style="font-size:9px;line-height:9px;height:9px;color:#3a3a3a;-webkit-text-stroke:0.3px #3a3a3a;right:564.70px;top:406.10px;transform-origin:100% 50%;">۲۵۰</div>
<div class="t" style="font-size:9px;line-height:9px;height:9px;color:#262626;-webkit-text-stroke:0.3px #262626;left:725.57px;top:402.25px;"><span style="padding:0 0.3px">۲</span><span style="padding:0 0.3px">۳</span><span style="padding:0 0.3px">۴</span></div>
<div class="t" style="font-size:8.5px;line-height:8.5px;height:8.5px;color:#222;-webkit-text-stroke:0.3px #222;right:545.40px;top:551.55px;transform-origin:100% 50%;transform:rotate(-90deg) scaleX(0.9602);">دانشگاه جامع علمی کاربردی</div>
<div class="t" style="font-size:9px;line-height:9px;height:9px;color:#262626;-webkit-text-stroke:0.3px #262626;left:742.84px;top:439.32px;"><span style="padding:0 0.3px">۱</span><span style="padding:0 0.3px">۶</span><span style="padding:0 0.3px">۷</span></div>
<div class="t" style="font-size:8.5px;line-height:8.5px;height:8.5px;color:#222;-webkit-text-stroke:0.3px #222;right:526.13px;top:551.55px;transform-origin:100% 50%;transform:rotate(-90deg) scaleX(0.9557);">دانشگاه شهید مدنی آذربایجان</div>
<div class="t" style="font-size:9px;line-height:9px;height:9px;color:#262626;-webkit-text-stroke:0.3px #262626;left:761.61px;top:463.10px;"><span style="padding:0 0.3px">۱</span><span style="padding:0 0.3px">۲</span><span style="padding:0 0.3px">۴</span></div>
<div class="t" style="font-size:8.5px;line-height:8.5px;height:8.5px;color:#222;-webkit-text-stroke:0.3px #222;right:508.36px;top:551.55px;transform-origin:100% 50%;transform:rotate(-90deg) scaleX(0.9379);">دانشگاه صنعتی امیر کبیر</div>
<div class="t" style="font-size:9px;line-height:9px;height:9px;color:#262626;-webkit-text-stroke:0.3px #262626;left:779.38px;top:464.21px;"><span style="padding:0 0.3px">۱</span><span style="padding:0 0.3px">۲</span><span style="padding:0 0.3px">۲</span></div>
<div class="t" style="font-size:8.5px;line-height:8.5px;height:8.5px;color:#222;-webkit-text-stroke:0.3px #222;right:490.09px;top:551.55px;transform-origin:100% 50%;transform:rotate(-90deg) scaleX(0.9706);">دانشگاه رازی</div>
<div class="t" style="font-size:9px;line-height:9px;height:9px;color:#262626;-webkit-text-stroke:0.3px #262626;left:801.24px;top:478.04px;"><span style="padding:0 0.3px">۹</span><span style="padding:0 0.3px">۷</span></div>
<div class="t" style="font-size:8.5px;line-height:8.5px;height:8.5px;color:#222;-webkit-text-stroke:0.3px #222;right:472.32px;top:551.55px;transform-origin:100% 50%;transform:rotate(-90deg) scaleX(0.9610);">علوم کشاورزی و منابع طبیعی گرگان</div>
<div class="t" style="font-size:9px;line-height:9px;height:9px;color:#262626;-webkit-text-stroke:0.3px #262626;left:819.51px;top:485.78px;"><span style="padding:0 0.3px">۸</span><span style="padding:0 0.3px">۳</span></div>
<div class="t" style="font-size:8.5px;line-height:8.5px;height:8.5px;color:#222;-webkit-text-stroke:0.3px #222;right:453.55px;top:551.55px;transform-origin:100% 50%;transform:rotate(-90deg) scaleX(0.9191);">دانشگاه فنی و حرفه ای</div>
<div class="t" style="font-size:9px;line-height:9px;height:9px;color:#262626;-webkit-text-stroke:0.3px #262626;left:838.78px;top:492.42px;"><span style="padding:0 0.3px">۷</span><span style="padding:0 0.3px">۱</span></div>
<div class="t" style="font-size:8.5px;line-height:8.5px;height:8.5px;color:#222;-webkit-text-stroke:0.3px #222;right:435.28px;top:551.55px;transform-origin:100% 50%;transform:rotate(-90deg) scaleX(0.9022);">دانشگاه علامه طباطبائی</div>
<div class="t" style="font-size:9px;line-height:9px;height:9px;color:#262626;-webkit-text-stroke:0.3px #262626;left:857.05px;top:492.98px;"><span style="padding:0 0.3px">۷</span><span style="padding:0 0.3px">۰</span></div>
<div class="t" style="font-size:8.5px;line-height:8.5px;height:8.5px;color:#222;-webkit-text-stroke:0.3px #222;right:417.01px;top:551.55px;transform-origin:100% 50%;transform:rotate(-90deg) scaleX(0.9313);">دانشگاه بین المللی چابهار</div>
<div class="t" style="font-size:9px;line-height:9px;height:9px;color:#262626;-webkit-text-stroke:0.3px #262626;left:874.82px;top:517.32px;"><span style="padding:0 0.3px">۲</span><span style="padding:0 0.3px">۶</span></div>
<div class="t" style="font-size:8.5px;line-height:8.5px;height:8.5px;color:#222;-webkit-text-stroke:0.3px #222;right:398.74px;top:551.55px;transform-origin:100% 50%;transform:rotate(-90deg) scaleX(0.9712);">دانشگاه گیلان</div>
<div class="t" style="font-size:9px;line-height:9px;height:9px;color:#262626;-webkit-text-stroke:0.3px #262626;left:892.59px;top:517.87px;"><span style="padding:0 0.3px">۲</span><span style="padding:0 0.3px">۵</span></div>
<div class="t" style="font-size:8.5px;line-height:8.5px;height:8.5px;color:#222;-webkit-text-stroke:0.3px #222;right:380.47px;top:551.55px;transform-origin:100% 50%;transform:rotate(-90deg) scaleX(0.9822);">دانشگاه یزد</div>
<div class="t" style="font-size:9px;line-height:9px;height:9px;color:#262626;-webkit-text-stroke:0.3px #262626;left:910.86px;top:518.98px;"><span style="padding:0 0.3px">۲</span><span style="padding:0 0.3px">۳</span></div>
<div class="t" style="font-size:8.5px;line-height:8.5px;height:8.5px;color:#222;-webkit-text-stroke:0.3px #222;right:362.20px;top:551.55px;transform-origin:100% 50%;transform:rotate(-90deg) scaleX(0.9130);">دانشگاه علم و هنر</div>
<div class="t" style="font-size:9px;line-height:9px;height:9px;color:#262626;-webkit-text-stroke:0.3px #262626;left:930.13px;top:520.64px;"><span style="padding:0 0.3px">۲</span><span style="padding:0 0.3px">۰</span></div>
<div class="t" style="font-size:8.5px;line-height:8.5px;height:8.5px;color:#222;-webkit-text-stroke:0.3px #222;right:343.93px;top:551.55px;transform-origin:100% 50%;transform:rotate(-90deg) scaleX(0.9294);">دانشگاه اراک</div>
<div class="t" style="font-size:9px;line-height:9px;height:9px;color:#262626;-webkit-text-stroke:0.3px #262626;left:946.90px;top:523.40px;"><span style="padding:0 0.3px">۱</span><span style="padding:0 0.3px">۵</span></div>
<div class="t" style="font-size:8.5px;line-height:8.5px;height:8.5px;color:#222;-webkit-text-stroke:0.3px #222;right:325.66px;top:551.55px;transform-origin:100% 50%;transform:rotate(-90deg) scaleX(0.9214);">دانشگاه الزهرا</div>
<div class="t" style="font-size:9px;line-height:9px;height:9px;color:#262626;-webkit-text-stroke:0.3px #262626;left:965.17px;top:523.40px;"><span style="padding:0 0.3px">۱</span><span style="padding:0 0.3px">۵</span></div>
<div class="t" style="font-size:8.5px;line-height:8.5px;height:8.5px;color:#222;-webkit-text-stroke:0.3px #222;right:307.39px;top:551.55px;transform-origin:100% 50%;transform:rotate(-90deg) scaleX(0.9016);">دانشگاه پیام نور</div>
<div class="t" style="font-size:9px;line-height:9px;height:9px;color:#262626;-webkit-text-stroke:0.3px #262626;left:983.94px;top:523.96px;"><span style="padding:0 0.3px">۱</span><span style="padding:0 0.3px">۴</span></div>
<div class="t" style="font-size:8.5px;line-height:8.5px;height:8.5px;color:#222;-webkit-text-stroke:0.3px #222;right:289.12px;top:551.55px;transform-origin:100% 50%;transform:rotate(-90deg) scaleX(0.9271);">دانشگاه سمنان</div>
<div class="t" style="font-size:9px;line-height:9px;height:9px;color:#262626;-webkit-text-stroke:0.3px #262626;left:1001.71px;top:524.51px;"><span style="padding:0 0.3px">۱</span><span style="padding:0 0.3px">۳</span></div>
<div class="t" style="font-size:8.5px;line-height:8.5px;height:8.5px;color:#222;-webkit-text-stroke:0.3px #222;right:270.85px;top:551.55px;transform-origin:100% 50%;transform:rotate(-90deg) scaleX(0.9438);">دانشگاه سیستان و بلوچستان</div>
<div class="t" style="font-size:9px;line-height:9px;height:9px;color:#262626;-webkit-text-stroke:0.3px #262626;left:1019.98px;top:524.51px;"><span style="padding:0 0.3px">۱</span><span style="padding:0 0.3px">۳</span></div>
<div class="t" style="font-size:8.5px;line-height:8.5px;height:8.5px;color:#222;-webkit-text-stroke:0.3px #222;right:252.58px;top:551.55px;transform-origin:100% 50%;transform:rotate(-90deg) scaleX(0.9556);">دانشگاه جهرم</div>
<div class="t" style="font-size:9px;line-height:9px;height:9px;color:#262626;-webkit-text-stroke:0.3px #262626;left:1038.25px;top:525.06px;"><span style="padding:0 0.3px">۱</span><span style="padding:0 0.3px">۲</span></div>
<div class="t" style="font-size:8.5px;line-height:8.5px;height:8.5px;color:#222;-webkit-text-stroke:0.3px #222;right:234.31px;top:551.55px;transform-origin:100% 50%;transform:rotate(-90deg) scaleX(0.9241);">دانشگاه بین المللی امام خمینی (ره)</div>
<div class="t" style="font-size:9px;line-height:9px;height:9px;color:#262626;-webkit-text-stroke:0.3px #262626;left:1056.52px;top:525.06px;"><span style="padding:0 0.3px">۱</span><span style="padding:0 0.3px">۲</span></div>
<div class="t" style="font-size:8.5px;line-height:8.5px;height:8.5px;color:#222;-webkit-text-stroke:0.3px #222;right:216.04px;top:551.55px;transform-origin:100% 50%;transform:rotate(-90deg) scaleX(0.9326);">دانشگاه قم</div>
<div class="t" style="font-size:9px;line-height:9px;height:9px;color:#262626;-webkit-text-stroke:0.3px #262626;left:1075.79px;top:525.61px;"><span style="padding:0 0.3px">۱</span><span style="padding:0 0.3px">۱</span></div>
<div class="t" style="font-size:8.5px;line-height:8.5px;height:8.5px;color:#222;-webkit-text-stroke:0.3px #222;right:197.77px;top:551.55px;transform-origin:100% 50%;transform:rotate(-90deg) scaleX(0.9741);">دانشگاه ولایت</div>
<div class="t" style="font-size:9px;line-height:9px;height:9px;color:#262626;-webkit-text-stroke:0.3px #262626;left:1094.06px;top:525.61px;"><span style="padding:0 0.3px">۱</span><span style="padding:0 0.3px">۱</span></div>
<div class="t" style="font-size:8.5px;line-height:8.5px;height:8.5px;color:#222;-webkit-text-stroke:0.3px #222;right:179.50px;top:551.55px;transform-origin:100% 50%;transform:rotate(-90deg) scaleX(0.9445);">دانشگاه صنعتی شاهرود</div>
<div class="t" style="font-size:9px;line-height:9px;height:9px;color:#262626;-webkit-text-stroke:0.3px #262626;left:1112.33px;top:525.61px;"><span style="padding:0 0.3px">۱</span><span style="padding:0 0.3px">۱</span></div>
<div class="t" style="font-size:8.5px;line-height:8.5px;height:8.5px;color:#222;-webkit-text-stroke:0.3px #222;right:161.23px;top:551.55px;transform-origin:100% 50%;transform:rotate(-90deg) scaleX(0.9287);">دانشگاه علوم و فنون دریایی خرمشهر</div>
<div class="t" style="font-size:9px;line-height:9px;height:9px;color:#262626;-webkit-text-stroke:0.3px #262626;left:1130.60px;top:526.17px;"><span style="padding:0 0.3px">۱</span><span style="padding:0 0.3px">۰</span></div>
<div class="t" style="font-size:8.5px;line-height:8.5px;height:8.5px;color:#222;-webkit-text-stroke:0.3px #222;right:142.46px;top:551.55px;transform-origin:100% 50%;transform:rotate(-90deg) scaleX(0.9673);">دانشگاه میبد</div>
<div class="t" style="font-size:9px;line-height:9px;height:9px;color:#262626;-webkit-text-stroke:0.3px #262626;left:1148.87px;top:526.17px;"><span style="padding:0 0.3px">۱</span><span style="padding:0 0.3px">۰</span></div>
<div class="t" style="font-size:8.5px;line-height:8.5px;height:8.5px;color:#222;-webkit-text-stroke:0.3px #222;right:124.69px;top:551.55px;transform-origin:100% 50%;transform:rotate(-90deg) scaleX(0.9102);">دانشگاه دامغان</div>
<div class="t" style="font-size:9px;line-height:9px;height:9px;color:#262626;-webkit-text-stroke:0.3px #262626;left:1167.14px;top:526.17px;"><span style="padding:0 0.3px">۱</span><span style="padding:0 0.3px">۰</span></div>
<div class="t" style="font-size:8.5px;line-height:8.5px;height:8.5px;color:#222;-webkit-text-stroke:0.3px #222;right:106.42px;top:551.55px;transform-origin:100% 50%;transform:rotate(-90deg) scaleX(0.9500);">دانشگاه ملایر</div>
<div class="t" style="font-size:9px;line-height:9px;height:9px;color:#262626;-webkit-text-stroke:0.3px #262626;left:1185.41px;top:526.17px;"><span style="padding:0 0.3px">۱</span><span style="padding:0 0.3px">۰</span></div>
<div class="t" style="font-size:8.5px;line-height:8.5px;height:8.5px;color:#222;-webkit-text-stroke:0.3px #222;right:88.15px;top:551.55px;transform-origin:100% 50%;transform:rotate(-90deg) scaleX(0.9508);">دانشگاه شهرکرد</div>
<div class="t" style="font-size:9px;line-height:9px;height:9px;color:#262626;-webkit-text-stroke:0.3px #262626;left:1203.68px;top:526.17px;"><span style="padding:0 0.3px">۱</span><span style="padding:0 0.3px">۰</span></div>
<div class="t" style="font-size:8.5px;line-height:8.5px;height:8.5px;color:#222;-webkit-text-stroke:0.3px #222;right:69.88px;top:551.55px;transform-origin:100% 50%;transform:rotate(-90deg) scaleX(0.9403);">دانشگاه کردستان</div>
<div class="t" style="font-size:9.5px;line-height:9.5px;height:9.5px;color:#1e1e1e;font-weight:bold;word-spacing:1px;-webkit-text-stroke:0.2px #1e1e1e;right:136.30px;top:701.50px;transform-origin:100% 50%;transform:scaleX(0.9780);">شکل ۲۸: دانشگاه‌های برتر در برگزاری دوره‌ها با مشارکت واحدهای صنعتی در سال ۱۴۰۱</div>
</body></html>
